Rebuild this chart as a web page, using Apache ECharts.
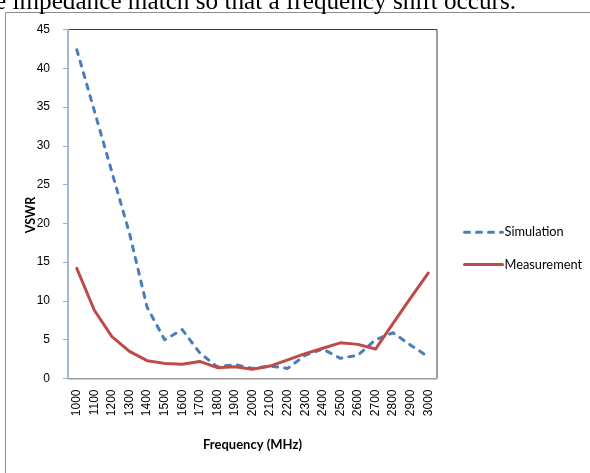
<!DOCTYPE html>
<html>
<head>
<meta charset="utf-8">
<script src="https://cdn.jsdelivr.net/npm/echarts@6/dist/echarts.min.js"></script>
<style>html,body{margin:0;padding:0;background:#fff;}#c{width:590px;height:473px;}</style>
</head>
<body>
<div id="c"></div>
<script>
var frequencies = ['1000','1100','1200','1300','1400','1500','1600','1700','1800','1900','2000','2100','2200','2300','2400','2500','2600','2700','2800','2900','3000'];
var simulation = [42.4, 34.5, 26.6, 18.7, 9.2, 5.0, 6.3, 3.3, 1.5, 1.8, 1.3, 1.6, 1.3, 3.0, 3.8, 2.6, 3.0, 5.0, 5.9, 4.3, 2.8];
var measurement = [14.2, 8.8, 5.4, 3.5, 2.3, 1.95, 1.85, 2.2, 1.4, 1.5, 1.2, 1.6, 2.4, 3.2, 3.9, 4.6, 4.4, 3.8, 7.1, 10.4, 13.6];
var yTicks = {min: 0, max: 45, step: 5};
var seriesNames = ['Simulation', 'Measurement'];
var captionText = 'e impedance match so that a frequency shift occurs.';

var chart = echarts.init(document.getElementById('c'), null, {renderer: 'canvas'});
chart.setOption({
  animation: false,
  backgroundColor: '#fff',
  graphic: [
    {type: 'rect', left: 3, top: 10, z: -10, silent: true,
     shape: {x: 0.5, y: 0.5, width: 700, height: 700},
     style: {fill: 'none', stroke: '#8c8c8c', lineWidth: 1}},
    {type: 'text', x: -5, y: 2, silent: true,
     style: {text: captionText, font: '25.2px "Liberation Serif", serif', fill: '#000', verticalAlign: 'middle', align: 'left'}},
    {type: 'text', x: 30.5, y: 215, rotation: Math.PI / 2, silent: true,
     style: {text: 'VSWR', font: 'bold 12.5px Lato, "Liberation Sans", sans-serif', fill: '#000', align: 'center', verticalAlign: 'middle'}}
  ],
  grid: {left: 68, right: 153, top: 29.5, bottom: 94.5, show: true, borderColor: '#3a3a3a', borderWidth: 1, backgroundColor: 'transparent'},
  legend: {
    orient: 'vertical', left: 458, top: 220.7, itemWidth: 38, itemHeight: 14, itemGap: 19.3,
    data: seriesNames,
    itemStyle: {opacity: 0},
    lineStyle: {width: 3},
    textStyle: {fontFamily: 'Lato, "Liberation Sans", sans-serif', fontSize: 12.8, color: '#000', padding: [0, 0, 0, -3]}
  },
  xAxis: {
    type: 'category', data: frequencies, boundaryGap: true,
    name: 'Frequency (MHz)', nameLocation: 'middle', nameGap: 60,
    nameTextStyle: {fontFamily: 'Lato, "Liberation Sans", sans-serif', fontWeight: 'bold', fontSize: 13, color: '#000'},
    axisLine: {show: true, lineStyle: {color: '#bdbdbd', width: 1.5}},
    axisTick: {show: false},
    axisLabel: {rotate: 90, margin: 11, interval: 0, fontFamily: '"Liberation Sans", sans-serif', fontSize: 12, color: '#000'},
    splitLine: {show: false}
  },
  yAxis: {
    type: 'value', min: yTicks.min, max: yTicks.max, interval: yTicks.step,
    axisLine: {show: true, lineStyle: {color: '#aac3e6', width: 1.5}},
    axisTick: {show: true, inside: false, length: 5, lineStyle: {color: '#8fb0dc', width: 1}},
    axisLabel: {margin: 18, fontFamily: '"Liberation Sans Narrow", "Liberation Sans", sans-serif', fontSize: 12, color: '#000'},
    splitLine: {show: false}
  },
  series: [
    {name: seriesNames[0], type: 'line', data: simulation, symbol: 'none', smooth: false,
     itemStyle: {color: '#4a7ebb'},
     lineStyle: {color: '#4a7ebb', width: 3, type: [5, 7], cap: 'round', join: 'round'}},
    {name: seriesNames[1], type: 'line', data: measurement, symbol: 'none', smooth: false,
     itemStyle: {color: '#be4b48'},
     lineStyle: {color: '#be4b48', width: 3, cap: 'round', join: 'round'}}
  ]
});
</script>
</body>
</html>
